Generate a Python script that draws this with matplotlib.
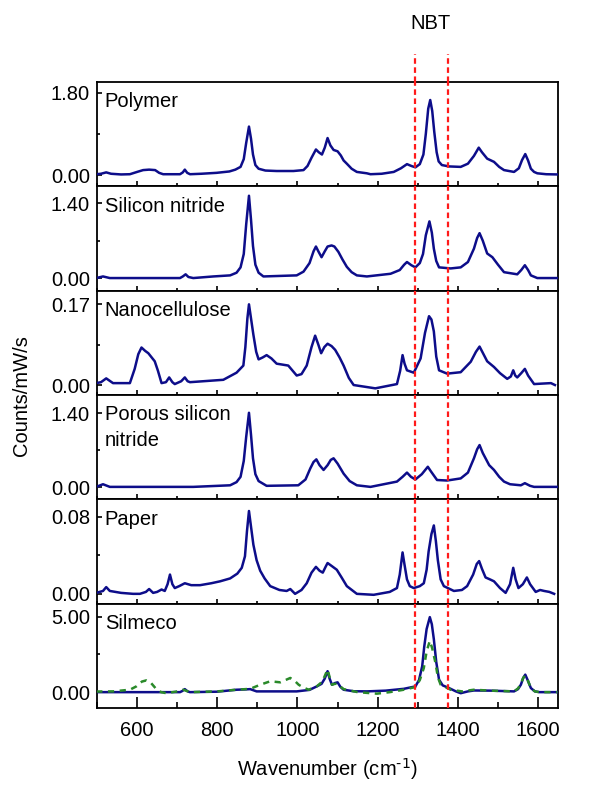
import numpy as np
import matplotlib
matplotlib.use("Agg")
from matplotlib import pyplot as plt

plt.rcParams['font.family'] = ['Liberation Sans', 'DejaVu Sans']
plt.rcParams['font.size'] = 14.5

# spectra (wavenumber, intensity)
wn_polymer = [498, 510, 523, 535, 560, 582, 600, 615, 630, 645, 655, 665, 707, 714, 719, 725, 732,
              760, 798, 830, 845, 858, 866, 872, 879, 884, 889, 895, 903, 920, 948, 990, 1015,
              1025, 1035, 1046, 1053, 1061, 1068, 1075, 1082, 1090, 1100, 1108, 1115, 1123, 1135,
              1148, 1173, 1182, 1210, 1240, 1258, 1273, 1284, 1294, 1305, 1314, 1320, 1326, 1331,
              1336, 1341, 1347, 1352, 1360, 1378, 1407, 1425, 1440, 1452, 1460, 1473, 1490, 1503,
              1515, 1540, 1552, 1560, 1568, 1575, 1582, 1590, 1598, 1620, 1648]
polymer = [0.02, 0.03, 0.06, 0.03, 0.015, 0.02, 0.07, 0.11, 0.12, 0.11, 0.05, 0.02, 0.02, 0.06,
           0.12, 0.05, 0.02, 0.03, 0.05, 0.08, 0.12, 0.18, 0.35, 0.70, 1.06, 0.80, 0.45, 0.22,
           0.14, 0.10, 0.09, 0.09, 0.11, 0.20, 0.38, 0.56, 0.50, 0.45, 0.60, 0.81, 0.65, 0.55,
           0.52, 0.43, 0.32, 0.25, 0.14, 0.07, 0.04, 0.02, 0.03, 0.07, 0.15, 0.24, 0.20, 0.17,
           0.24, 0.45, 0.90, 1.45, 1.64, 1.40, 0.95, 0.50, 0.30, 0.22, 0.19, 0.18, 0.25, 0.42,
           0.60, 0.50, 0.36, 0.29, 0.18, 0.11, 0.07, 0.15, 0.33, 0.46, 0.32, 0.14, 0.07, 0.04,
           0.02, 0.015]

wn_sin = [498, 515, 532, 707, 714, 721, 728, 740, 790, 832, 848, 858, 866, 872, 879, 884, 889,
          895, 903, 915, 998, 1015, 1030, 1040, 1046, 1052, 1060, 1068, 1075, 1085, 1092, 1102,
          1112, 1123, 1135, 1148, 1173, 1232, 1255, 1266, 1273, 1284, 1294, 1305, 1313, 1320,
          1329, 1335, 1340, 1346, 1353, 1382, 1407, 1425, 1440, 1448, 1454, 1462, 1473, 1486,
          1500, 1515, 1548, 1558, 1567, 1575, 1582, 1598, 1648]
sin = [0.0, 0.03, 0.0, 0.0, 0.03, 0.07, 0.02, 0.0, 0.03, 0.05, 0.10, 0.20, 0.45, 1.00, 1.54,
       1.10, 0.60, 0.25, 0.10, 0.03, 0.05, 0.12, 0.28, 0.50, 0.59, 0.50, 0.39, 0.50, 0.59, 0.61,
       0.59, 0.49, 0.35, 0.21, 0.11, 0.05, 0.03, 0.08, 0.15, 0.25, 0.30, 0.24, 0.20, 0.28, 0.45,
       0.80, 1.06, 0.85, 0.55, 0.32, 0.20, 0.18, 0.20, 0.30, 0.55, 0.75, 0.84, 0.70, 0.46, 0.39,
       0.25, 0.11, 0.07, 0.15, 0.24, 0.15, 0.05, 0.0, 0.0]

wn_nano = [498, 510, 523, 540, 582, 594, 603, 611, 620, 628, 644, 652, 661, 672, 680, 688, 694,
           710, 719, 726, 732, 815, 848, 865, 870, 875, 879, 885, 890, 897, 903, 913, 923, 935,
           948, 977, 990, 998, 1010, 1023, 1035, 1044, 1052, 1059, 1067, 1075, 1085, 1094, 1105,
           1115, 1128, 1140, 1194, 1248, 1256, 1262, 1267, 1273, 1290, 1307, 1318, 1328, 1334,
           1340, 1346, 1353, 1373, 1407, 1432, 1445, 1454, 1462, 1473, 1490, 1505, 1523, 1532,
           1538, 1543, 1548, 1558, 1567, 1575, 1590, 1610, 1632, 1642]
nano = [0.004, 0.006, 0.014, 0.004, 0.004, 0.034, 0.065, 0.079, 0.072, 0.067, 0.050, 0.030,
        0.004, 0.006, 0.016, 0.006, 0.002, 0.008, 0.016, 0.008, 0.006, 0.011, 0.026, 0.041,
        0.080, 0.140, 0.170, 0.135, 0.106, 0.070, 0.054, 0.058, 0.063, 0.056, 0.045, 0.041,
        0.028, 0.020, 0.023, 0.041, 0.080, 0.104, 0.085, 0.067, 0.080, 0.087, 0.082, 0.074,
        0.058, 0.041, 0.015, 0.0, -0.007, 0.002, 0.030, 0.063, 0.045, 0.031, 0.026, 0.056,
        0.110, 0.145, 0.138, 0.113, 0.060, 0.031, 0.024, 0.027, 0.049, 0.070, 0.081, 0.068,
        0.050, 0.038, 0.025, 0.013, 0.018, 0.031, 0.020, 0.016, 0.025, 0.034, 0.020, 0.002,
        0.003, 0.004, 0.0]

wn_porous = [498, 515, 532, 740, 832, 848, 858, 866, 872, 879, 884, 889, 895, 903, 923, 1002,
             1020, 1032, 1040, 1047, 1055, 1065, 1075, 1083, 1090, 1100, 1115, 1130, 1148, 1182,
             1248, 1262, 1273, 1283, 1294, 1310, 1325, 1333, 1348, 1373, 1407, 1425, 1440, 1448,
             1454, 1462, 1478, 1490, 1503, 1515, 1530, 1557, 1567, 1580, 1590, 1648]
porous = [0.01, 0.06, 0.01, 0.01, 0.04, 0.10, 0.20, 0.50, 0.95, 1.41, 1.00, 0.55, 0.25, 0.12,
          0.03, 0.04, 0.15, 0.36, 0.48, 0.53, 0.42, 0.33, 0.42, 0.52, 0.55, 0.45, 0.26, 0.12,
          0.04, 0.01, 0.11, 0.20, 0.28, 0.20, 0.15, 0.25, 0.39, 0.30, 0.14, 0.13, 0.17, 0.28,
          0.55, 0.72, 0.80, 0.65, 0.42, 0.33, 0.20, 0.11, 0.06, 0.04, 0.08, 0.03, 0.01, 0.01]

wn_paper = [498, 515, 523, 532, 560, 590, 607, 622, 630, 640, 650, 661, 669, 676, 682, 688, 694,
            705, 719, 735, 757, 785, 807, 832, 850, 861, 869, 874, 879, 884, 890, 898, 907, 918,
            932, 955, 973, 982, 994, 1010, 1023, 1035, 1046, 1055, 1063, 1070, 1075, 1085, 1098,
            1110, 1123, 1148, 1190, 1230, 1248, 1255, 1262, 1267, 1273, 1280, 1290, 1305, 1315,
            1322, 1327, 1334, 1340, 1345, 1350, 1357, 1365, 1390, 1410, 1423, 1438, 1447, 1453,
            1460, 1469, 1480, 1490, 1505, 1519, 1530, 1538, 1544, 1551, 1562, 1572, 1580, 1594,
            1605, 1615, 1628, 1640]
paper = [0.001, 0.003, 0.007, 0.003, 0.001, 0.0, 0.0, 0.002, 0.005, 0.001, 0.002, 0.0045,
         0.003, 0.010, 0.020, 0.010, 0.006, 0.008, 0.011, 0.009, 0.009, 0.011, 0.013, 0.016,
         0.021, 0.027, 0.039, 0.065, 0.086, 0.070, 0.051, 0.035, 0.024, 0.016, 0.008, 0.004,
         0.003, 0.005, 0.0, 0.004, 0.011, 0.022, 0.028, 0.024, 0.022, 0.028, 0.032, 0.029,
         0.025, 0.017, 0.008, 0.0, -0.001, 0.002, 0.006, 0.020, 0.043, 0.030, 0.015, 0.008,
         0.006, 0.008, 0.011, 0.025, 0.044, 0.062, 0.071, 0.055, 0.035, 0.015, 0.008, 0.003,
         0.004, 0.008, 0.020, 0.031, 0.034, 0.026, 0.017, 0.015, 0.013, 0.006, 0.001, 0.010,
         0.027, 0.015, 0.006, 0.010, 0.017, 0.010, 0.002, 0.004, 0.003, 0.002, 0.0]

wn_silmeco = [498, 707, 713, 719, 726, 732, 800, 848, 870, 882, 898, 998, 1030, 1048, 1060, 1068,
              1075, 1080, 1086, 1093, 1100, 1107, 1115, 1140, 1173, 1220, 1265, 1294, 1303, 1311,
              1316, 1322, 1330, 1335, 1340, 1346, 1353, 1362, 1378, 1395, 1407, 1425, 1440, 1480,
              1540, 1550, 1557, 1563, 1568, 1574, 1582, 1592, 1603, 1648]
silmeco = [0.0, 0.0, 0.08, 0.2, 0.05, 0.0, 0.03, 0.16, 0.18, 0.2, 0.05, 0.05, 0.15, 0.38, 0.55,
           0.9, 1.39, 0.9, 0.49, 0.6, 0.65, 0.35, 0.16, 0.06, 0.05, 0.1, 0.22, 0.38, 0.8, 1.72,
           3.0, 4.18, 4.97, 4.5, 3.51, 2.0, 0.83, 0.45, 0.27, 0.05, -0.07, 0.05, 0.11, 0.1, 0.05,
           0.2, 0.49, 0.95, 1.16, 0.8, 0.27, 0.05, 0.0, 0.0]

wn_silmeco_ref = [498, 540, 582, 598, 612, 623, 635, 648, 660, 673, 700, 715, 732, 800, 848, 882,
                  907, 932, 957, 982, 993, 1003, 1015, 1028, 1048, 1062, 1075, 1080, 1086, 1093,
                  1100, 1108, 1115, 1150, 1198, 1230, 1265, 1294, 1305, 1315, 1322, 1330, 1336,
                  1344, 1350, 1357, 1382, 1410, 1440, 1480, 1540, 1550, 1557, 1563, 1568, 1574,
                  1582, 1592, 1603, 1648]
silmeco_ref = [0.04, 0.05, 0.16, 0.38, 0.7, 0.78, 0.6, 0.2, 0.0, -0.07, 0.05, 0.16, 0.0, 0.05,
               0.16, 0.22, 0.49, 0.72, 0.65, 0.94, 0.75, 0.49, 0.3, 0.16, 0.38, 0.7, 1.5, 1.0,
               0.49, 0.55, 0.56, 0.35, 0.2, 0.0, -0.1, 0.0, 0.16, 0.34, 0.8, 1.6, 2.7, 3.4, 2.9,
               1.95, 1.0, 0.49, 0.16, 0.05, 0.16, 0.1, 0.05, 0.25, 0.56, 0.95, 1.1, 0.8, 0.27,
               0.05, 0.0, 0.0]

labels = ["Polymer", "Silicon nitride", "Nanocellulose", "Porous silicon\nnitride", "Paper", "Silmeco"]
tick_max = [1.80, 1.40, 0.17, 1.40, 0.08, 5.00]
ylims = [(-0.24, 2.04), (-0.234, 1.72), (-0.021, 0.199), (-0.227, 1.746), (-0.0104, 0.098), (-1.07, 5.85)]
nbt_lines = [1293, 1376]

series = [(wn_polymer, polymer), (wn_sin, sin), (wn_nano, nano),
          (wn_porous, porous), (wn_paper, paper), (wn_silmeco, silmeco)]

blue = "#0d0d8a"
red = "#ff1a1a"
fig, axes = plt.subplots(6, 1, sharex=True, figsize=(6.1, 7.97), dpi=100)
fig.subplots_adjust(left=0.159, right=0.915, top=0.8975, bottom=0.1113, hspace=0)

for i, ax in enumerate(axes):
    x, y = series[i]
    ax.plot(x, y, color=blue, lw=1.8, zorder=3, solid_joinstyle="round")
    if i == 5:
        ax.plot(wn_silmeco_ref, silmeco_ref, color="#2a8a2a", lw=1.8, ls=(0, (2.5, 2.2)), zorder=4)
    for xv in nbt_lines:
        ax.axvline(xv, color=red, lw=1.6, ls=(0, (2.5, 1.6)), zorder=5)
    ax.set_ylim(*ylims[i])
    ax.set_yticks([0, tick_max[i]])
    ax.set_yticklabels(["0.00", "%.2f" % tick_max[i]])
    ax.set_yticks([tick_max[i] / 2], minor=True)
    ax.set_xlim(500, 1650)
    ax.set_xticks(np.arange(600, 1601, 200))
    ax.set_xticks(np.arange(500, 1651, 100), minor=True)
    if i == 5:
        ax.tick_params(axis="x", which="major", direction="in", length=8, width=1.2, pad=9)
        ax.tick_params(axis="x", which="minor", direction="in", length=4.5, width=1.2)
    else:
        ax.tick_params(axis="x", which="major", direction="in", length=3.5, width=1.2)
        ax.tick_params(axis="x", which="minor", direction="in", length=2, width=1.2)
    ax.tick_params(axis="y", which="major", direction="in", length=3.5, width=1.2, pad=5)
    ax.tick_params(axis="y", which="minor", direction="in", length=2.5, width=1.2)
    for s in ax.spines.values():
        s.set_linewidth(1.3)
    ax.text(0.017, 0.9, labels[i], transform=ax.transAxes, ha="left", va="top",
            fontsize=14.5, linespacing=1.45)

axes[-1].set_xlabel("Wavenumber (cm$^{\\text{-}1}$)", fontsize=14.5, labelpad=12)
fig.text(0.036, 0.504, "Counts/mW/s", rotation=90, ha="center", va="center", fontsize=14.5)

# NBT marker lines extend above the top panel
top = axes[0]
for xv in nbt_lines:
    top.plot([xv, xv], [ylims[0][1], ylims[0][1] + 0.6], color=red, lw=1.6,
             ls=(0, (2.5, 1.6)), clip_on=False, zorder=5)
top.text(1331, ylims[0][1] + 1.27, "NBT", ha="center", va="center", fontsize=14.5)

fig.savefig("out.png", dpi=100)
